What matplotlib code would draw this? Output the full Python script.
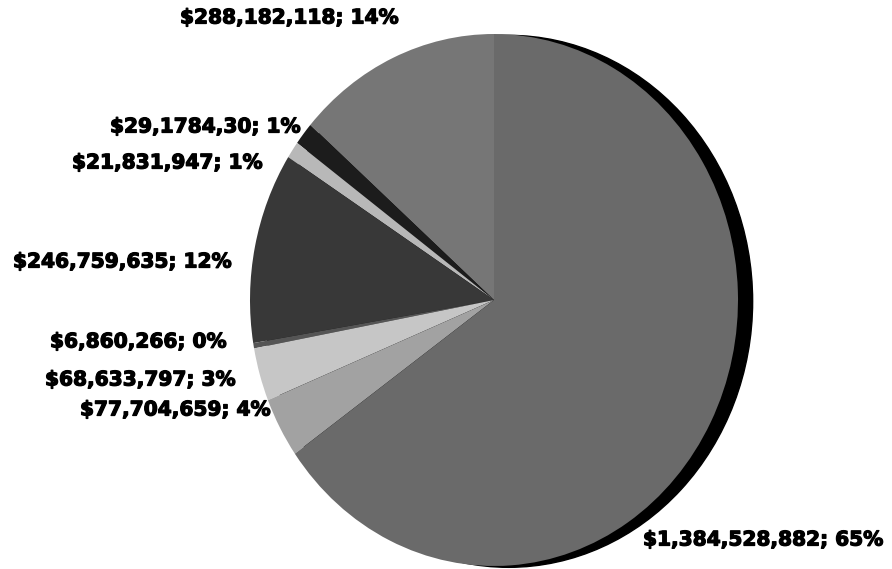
import numpy as np
import matplotlib.pyplot as plt
import matplotlib.patheffects as pe
from matplotlib.patches import Ellipse

# slice values, counterclockwise from 12 o'clock
values = [288182118, 29178430, 21831947, 246759635, 6860266, 68633797, 77704659, 1384528882]
labels = ["$288,182,118; 14%", "$29,1784,30; 1%", "$21,831,947; 1%", "$246,759,635; 12%",
          "$6,860,266; 0%", "$68,633,797; 3%", "$77,704,659; 4%", "$1,384,528,882; 65%"]
greys = ["#767676", "#1c1c1c", "#b8b8b8", "#383838", "#555555", "#c6c6c6", "#a2a2a2", "#6a6a6a"]

# label anchor (left x, centre y) in pixels from top-left
label_pos = [(180, 18), (110, 127), (72, 163), (13, 262),
             (50, 342), (45, 380), (80, 410), (643, 540)]

W, H = 892, 569
fig = plt.figure(figsize=(W / 100, H / 100), dpi=100)

# pie face, slightly taller than wide
cx, cy, rx, ry = 494, 300, 244, 266
ax = fig.add_axes([(cx - rx) / W, (H - cy - ry) / H, 2 * rx / W, 2 * ry / H])
ax.add_patch(Ellipse((0.06, -0.005), 2, 2, color="black", zorder=0, clip_on=False))
wedges, _ = ax.pie(values, colors=greys, startangle=90, counterclock=True,
                   wedgeprops=dict(linewidth=0))
ax.set_aspect("auto")
ax.set_xlim(-1, 1)
ax.set_ylim(-1, 1)
ax.axis("off")

for txt, (x, y) in zip(labels, label_pos):
    fig.text(x / W, 1 - y / H, txt, ha="left", va="center", fontsize=14.5,
             fontweight="bold", family="DejaVu Sans", color="black",
             path_effects=[pe.withStroke(linewidth=0.9, foreground="black")])

plt.savefig("out.png", dpi=100)
